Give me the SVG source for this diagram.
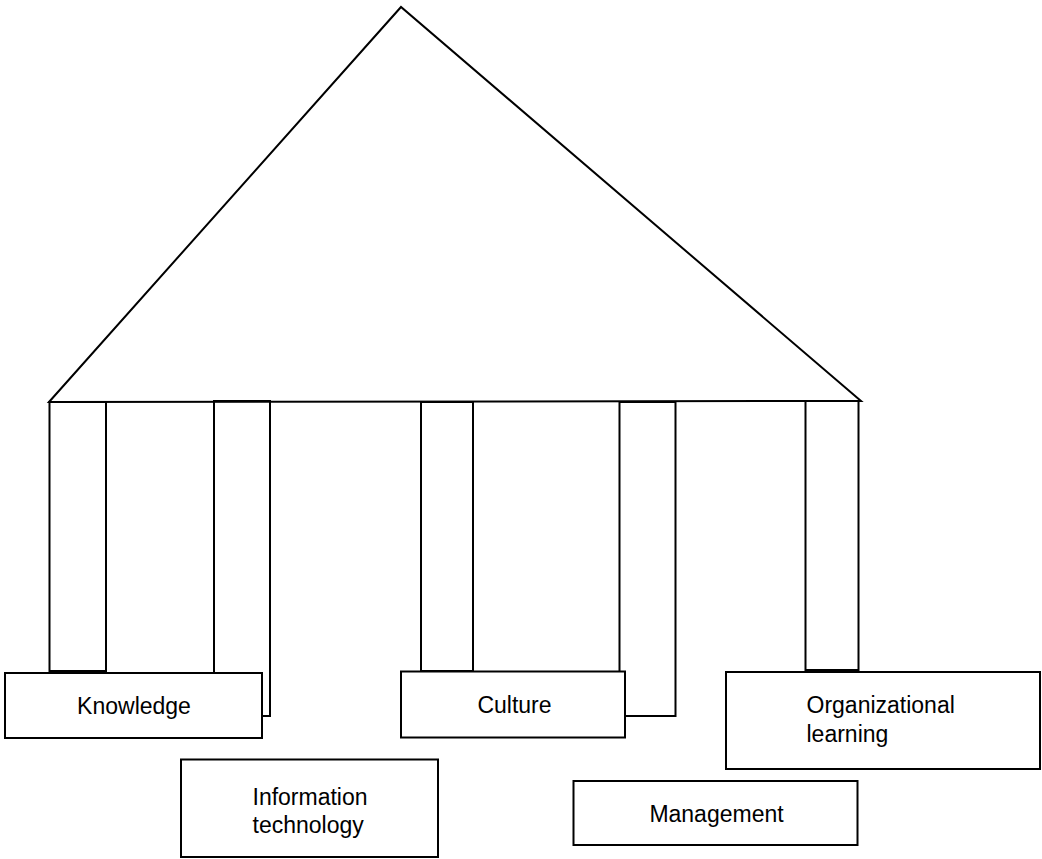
<svg xmlns="http://www.w3.org/2000/svg" width="1042" height="859" viewBox="0 0 1042 859">
<style>
.s{fill:none;stroke:#000;stroke-width:2;stroke-linejoin:miter}
.b{fill:#fff;stroke:#000;stroke-width:2}
.t{font-family:"Liberation Sans",Arial,sans-serif;font-size:23px;fill:#000}
</style>
<rect width="1042" height="859" fill="#fff"/>
<g id="roof">
<path class="s" d="M49,402 L401,7 L861,401 Z"/>
</g>
<g id="connectors">
<rect class="s" x="49.5" y="402" width="56.5" height="269"/>
<path class="s" d="M214,672 V401 H270 V716 H262"/>
<rect class="s" x="421" y="402" width="52" height="269"/>
<path class="s" d="M619.5,671 V402 H675.5 V716 H625"/>
<rect class="s" x="805.5" y="401" width="53" height="269"/>
</g>
<g id="knowledge">
<rect class="b" x="5" y="673" width="257" height="65"/>
<text class="t" x="134" y="714" text-anchor="middle">Knowledge</text>
</g>
<g id="culture">
<rect class="b" x="401" y="671.5" width="224" height="66"/>
<text class="t" x="514.5" y="713" text-anchor="middle">Culture</text>
</g>
<g id="organizational-learning">
<rect class="b" x="726" y="672" width="314" height="97"/>
<text class="t" x="806.5" y="713">Organizational</text>
<text class="t" x="806.5" y="742">learning</text>
</g>
<g id="information-technology">
<rect class="b" x="181" y="759.5" width="257" height="97.5"/>
<text class="t" x="252.5" y="805">Information</text>
<text class="t" x="252.5" y="833">technology</text>
</g>
<g id="management">
<rect class="b" x="573.5" y="781" width="284" height="64"/>
<text class="t" x="716.5" y="821.5" text-anchor="middle">Management</text>
</g>
</svg>
